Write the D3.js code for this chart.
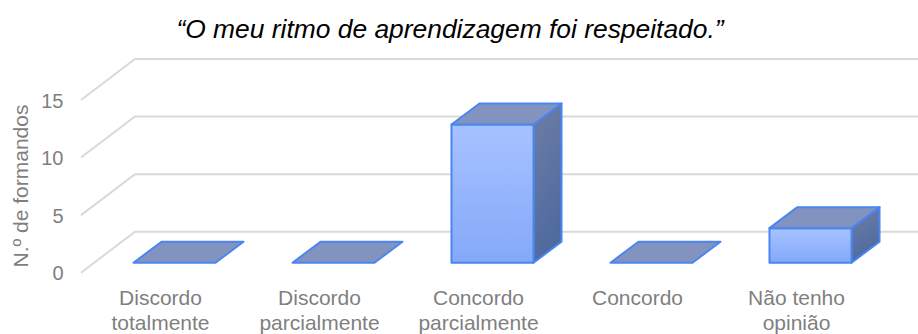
<!DOCTYPE html>
<html>
<head>
<meta charset="utf-8">
<script src="https://cdn.jsdelivr.net/npm/d3@7"></script>
<style>
  html, body { margin: 0; padding: 0; background: #fff; overflow: hidden; }
  svg { display: block; font-family: "Liberation Sans", Arial, sans-serif; }
</style>
</head>
<body>
<div id="chart"></div>
<script>
// Données
const categories = [
    ["Discordo", "totalmente"],
    ["Discordo", "parcialmente"],
    ["Concordo", "parcialmente"],
    ["Concordo"],
    ["Não tenho", "opinião"]
];
const values = [0, 0, 12, 0, 3];
const yTicks = [0, 5, 10, 15];
const chartTitle = "“O meu ritmo de aprendizagem foi respeitado.”";
const yTitle = "N.º de formandos";

const width = 918, height = 334;

// Profondeur de la perspective
const floorDx = 54, floorDy = 41;
const barDx = 28, barDy = 21;
const frontDx = 14, frontDy = 10;

const svg = d3.select("#chart").append("svg")
    .attr("width", width)
    .attr("height", height);

const defs = svg.append("defs");
function gradient(id, x2, y2, from, to) {
    const g = defs.append("linearGradient").attr("id", id)
        .attr("x1", 0).attr("y1", 0).attr("x2", x2).attr("y2", y2);
    g.append("stop").attr("offset", "0%").attr("stop-color", from);
    g.append("stop").attr("offset", "100%").attr("stop-color", to);
}
gradient("frontFill", 0, 1, "#a7c2ff", "#84a8f9");
gradient("sideFill", 0.3, 1, "#6d7ea6", "#4f6a9f");

const x = d3.scaleBand()
    .domain(d3.range(categories.length))
    .range([81 + frontDx, 81 + frontDx + 159 * categories.length])
    .paddingInner(0.484)
    .paddingOuter(0.242);

const y = d3.scaleLinear().domain([0, 15]).range([272.7, 100]);

// Grille
const grid = svg.append("g").attr("fill", "none").attr("stroke", "#d9d9d9").attr("stroke-width", 2);
yTicks.forEach(t => {
    grid.append("path")
        .attr("d", `M81,${y(t)}L${81 + floorDx},${y(t) - floorDy}L${width},${y(t) - floorDy}`);
});

// Graduations
svg.append("g").selectAll("text")
    .data(yTicks)
    .join("text")
    .attr("x", 63.5)
    .attr("y", d => y(d) + 0.5)
    .attr("dy", "0.36em")
    .attr("text-anchor", "end")
    .attr("fill", "#7f7f7f")
    .style("font-size", "20px")
    .text(d => d);

// Titre de l'axe
svg.append("text")
    .attr("transform", "translate(27.5,186) rotate(-90)")
    .attr("text-anchor", "middle")
    .attr("fill", "#7f7f7f")
    .style("font-size", "21px")
    .text(yTitle);

// Barres
const bars = svg.append("g").selectAll("g")
    .data(values)
    .join("g")
    .attr("stroke", "#4a86f0")
    .attr("stroke-width", 2)
    .attr("stroke-linejoin", "round");

const base = y(0) - frontDy;
const w = x.bandwidth();

bars.each(function(d, i) {
    const g = d3.select(this);
    const x0 = x(i), x1 = x0 + w;
    const top = base - (y(0) - y(d));
    if (d > 0) {
        g.append("path")
            .attr("fill", "url(#sideFill)")
            .attr("d", `M${x1},${top}L${x1 + barDx},${top - barDy}L${x1 + barDx},${base - barDy}L${x1},${base}Z`);
        g.append("rect")
            .attr("x", x0).attr("y", top)
            .attr("width", w).attr("height", base - top)
            .attr("fill", "url(#frontFill)");
    }
    g.append("path")
        .attr("fill", "#8393bf")
        .attr("d", `M${x0},${top}L${x0 + barDx},${top - barDy}L${x1 + barDx},${top - barDy}L${x1},${top}Z`);
});

// Catégories
svg.append("g").selectAll("text")
    .data(categories)
    .join("text")
    .attr("text-anchor", "middle")
    .attr("fill", "#7f7f7f")
    .style("font-size", "21px")
    .each(function(lines, i) {
        const cx = x(i) + w / 2 - frontDx;
        d3.select(this).selectAll("tspan")
            .data(lines)
            .join("tspan")
            .attr("x", cx)
            .attr("y", (l, k) => 305 + k * 25)
            .text(l => l);
    });

// Titre
svg.append("text")
    .attr("x", 450)
    .attr("y", 38)
    .attr("text-anchor", "middle")
    .attr("fill", "#000")
    .style("font-size", "26.4px")
    .style("font-style", "italic")
    .text(chartTitle);
</script>
</body>
</html>
